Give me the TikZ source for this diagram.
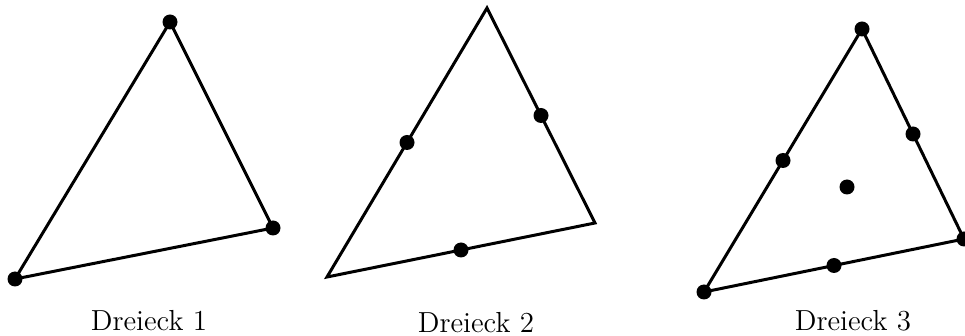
\documentclass[tikz,border=0pt]{standalone}
\usetikzlibrary{calc}
\begin{document}
\begin{tikzpicture}[x=0.5pt,y=-0.5pt,
  edge/.style={line width=1.5pt,line join=miter},
  pt/.style={circle,fill=black,inner sep=0pt,minimum size=7.5pt},
  lbl/.style={anchor=base,font=\fontsize{14.5}{17}\selectfont}]
\useasboundingbox (0,0) rectangle (965,336);
% Triangle 1
\coordinate (a1) at (15,279);
\coordinate (b1) at (170,22);
\coordinate (c1) at (273,228);
\draw[edge] (a1) -- (b1) -- (c1) -- cycle;
\node[pt] (pa1) at (a1) {};
\node[pt] (pb1) at (b1) {};
\node[pt] (pc1) at (c1) {};
\node[lbl] (l1) at (149,331) {Dreieck 1};
% Triangle 2
\coordinate (a2) at (327,277);
\coordinate (b2) at (487,8);
\coordinate (c2) at (595,223);
\draw[edge] (a2) -- (b2) -- (c2) -- cycle;
\node[pt] (m2ab) at ($(a2)!0.5!(b2)$) {};
\node[pt] (m2bc) at ($(b2)!0.5!(c2)$) {};
\node[pt] (m2ca) at ($(c2)!0.5!(a2)$) {};
\node[lbl] (l2) at (476,332.5) {Dreieck 2};
% Triangle 3
\coordinate (a3) at (704,292);
\coordinate (b3) at (862,29);
\coordinate (c3) at (964,239);
\draw[edge] (a3) -- (b3) -- (c3) -- cycle;
\node[pt] (pa3) at (a3) {};
\node[pt] (pb3) at (b3) {};
\node[pt] (pc3) at (c3) {};
\node[pt] (m3ab) at ($(a3)!0.5!(b3)$) {};
\node[pt] (m3bc) at ($(b3)!0.5!(c3)$) {};
\node[pt] (m3ca) at ($(c3)!0.5!(a3)$) {};
\node[pt] (g3) at (847,187) {};
\node[lbl] (l3) at (853,331) {Dreieck 3};
\end{tikzpicture}
\end{document}
